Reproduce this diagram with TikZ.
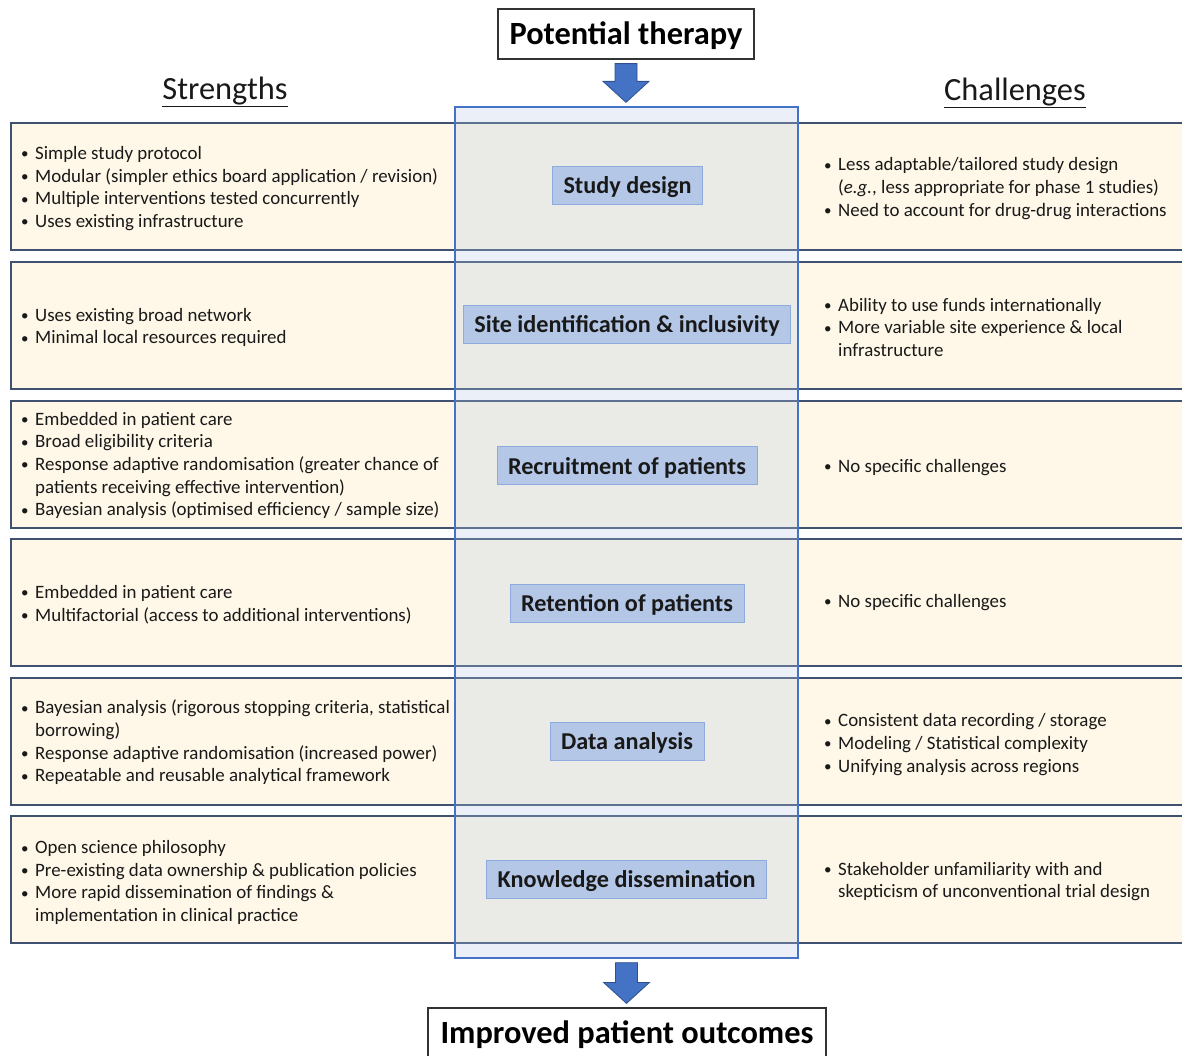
\documentclass[tikz,border=0pt]{standalone}
\usepackage{fontspec}
\setmainfont{Carlito}
\usetikzlibrary{calc}
\definecolor{cream}{HTML}{FFF8E8}
\definecolor{rowline}{HTML}{3F5170}
\definecolor{colfill}{HTML}{B4C7E7}
\definecolor{colline}{HTML}{4472C4}
\definecolor{labfill}{HTML}{B4C7E7}
\definecolor{labline}{HTML}{8FAADC}
\definecolor{arrfill}{HTML}{4472C4}
\definecolor{arrline}{HTML}{2F528F}
\newcommand\bul{\makebox[14pt][l]{\raisebox{0.6pt}{\fontsize{15}{15}\selectfont\textbullet}}}
\newcommand\ind{\hspace*{14pt}}
\newcommand\dn[1]{\raisebox{-2pt}[\height][\depth]{#1}}
\newcommand\blockarr[2]{%
  \path[blockarrow] let \p1=($(#1.south)+(0,4)$), \p2=($(#2.north)+(0,-4)$) in
    (\x1-11pt,\y1) -- (\x1+11pt,\y1) -- (\x1+11pt,\y2+21pt) -- (\x1+23pt,\y2+21pt)
    -- (\x1,\y2) -- (\x1-23pt,\y2+21pt) -- (\x1-11pt,\y2+21pt) -- cycle;}
\begin{document}
\begin{tikzpicture}[x=1pt,y=-1pt,
  rowbox/.style={draw=rowline, line width=1.5pt, fill=cream, anchor=north west,
    minimum width=1185pt, minimum height=127pt, inner sep=0pt},
  colbox/.style={draw=colline, line width=1.3pt, fill=colfill, fill opacity=0.28,
    minimum width=343pt, minimum height=851pt, inner sep=0pt},
  txt/.style={anchor=west, align=left, inner sep=0pt, text=black!90,
    font=\fontsize{18.9}{22.6}\selectfont},
  lab/.style={draw=labline, line width=0.8pt, fill=labfill, text=black!90,
    font=\fontsize{24.2}{28}\selectfont\bfseries, minimum height=38pt, inner xsep=11pt},
  termbox/.style={draw=black!80, line width=1.2pt, fill=white,
    font=\fontsize{32.4}{36}\selectfont\bfseries, minimum height=50pt, inner xsep=4pt},
  head/.style={font=\fontsize{32.4}{36}\selectfont, text=black!90},
  blockarrow/.style={fill=arrfill, draw=arrline, line width=0.8pt}]
\useasboundingbox (0,0) rectangle (1182,1055);

% rows
\node[rowbox] (row1) at (10,122) {};
\node[rowbox] (row2) at (10,261) {};
\node[rowbox] (row3) at (10,400) {};
\node[rowbox] (row4) at (10,538) {};
\node[rowbox] (row5) at (10,677) {};
\node[rowbox] (row6) at (10,815) {};

% central column
\node[colbox] (col) at (626.5,532.5) {};

% headings
\node[head] (str) at (225,92) {\underline{Strengths}};
\node[head] (cha) at (1015,93) {\underline{Challenges}};

% terminal boxes
\node[termbox, minimum width=256pt] (pt) at (626,34) {\dn{Potential therapy}};
\node[termbox, minimum width=398pt] (ipo) at (627,1033) {\dn{Improved patient outcomes}};

\blockarr{pt}{col}
\blockarr{col}{ipo}

% stage labels
\node[lab] (l1) at (627.5,185) {\dn{Study design}};
\node[lab] (l2) at (627,324) {\dn{Site identification \& inclusivity}};
\node[lab] (l3) at (627,465.5) {\dn{Recruitment of patients}};
\node[lab] (l4) at (627,603) {\dn{Retention of patients}};
\node[lab] (l5) at (627,741) {\dn{Data analysis}};
\node[lab] (l6) at (626.5,879) {\dn{Knowledge dissemination}};

% strengths
\node[txt] (s1) at (21,188.5) {\bul Simple study protocol\\
\bul Modular (simpler ethics board application / revision)\\
\bul Multiple interventions tested concurrently\\
\bul Uses existing infrastructure};
\node[txt] (s2) at (21,327.5) {\bul Uses existing broad network\\
\bul Minimal local resources required};
\node[txt] (s3) at (21,465.5) {\bul Embedded in patient care\\
\bul Broad eligibility criteria\\
\bul Response adaptive randomisation (greater chance of\\
\ind patients receiving effective intervention)\\
\bul Bayesian analysis (optimised efficiency / sample size)};
\node[txt] (s4) at (21,604.5) {\bul Embedded in patient care\\
\bul Multifactorial (access to additional interventions)};
\node[txt] (s5) at (21,742.5) {\bul Bayesian analysis (rigorous stopping criteria, statistical\\
\ind borrowing)\\
\bul Response adaptive randomisation (increased power)\\
\bul Repeatable and reusable analytical framework};
\node[txt] (s6) at (21,882.5) {\bul Open science philosophy\\
\bul Pre-existing data ownership \& publication policies\\
\bul More rapid dissemination of findings \&\\
\ind implementation in clinical practice};

% challenges
\node[txt] (c1) at (824,188.5) {\bul Less adaptable/tailored study design\\
\ind(\textit{e.g.}, less appropriate for phase 1 studies)\\
\bul Need to account for drug-drug interactions};
\node[txt] (c2) at (824,327.5) {\bul Ability to use funds internationally\\
\bul More variable site experience \& local\\
\ind infrastructure};
\node[txt] (c3) at (824,467.5) {\bul No specific challenges};
\node[txt] (c4) at (824,602.5) {\bul No specific challenges};
\node[txt] (c5) at (824,744.5) {\bul Consistent data recording / storage\\
\bul Modeling / Statistical complexity\\
\bul Unifying analysis across regions};
\node[txt] (c6) at (824,881.5) {\bul Stakeholder unfamiliarity with and\\
\ind skepticism of unconventional trial design};
\end{tikzpicture}
\end{document}
